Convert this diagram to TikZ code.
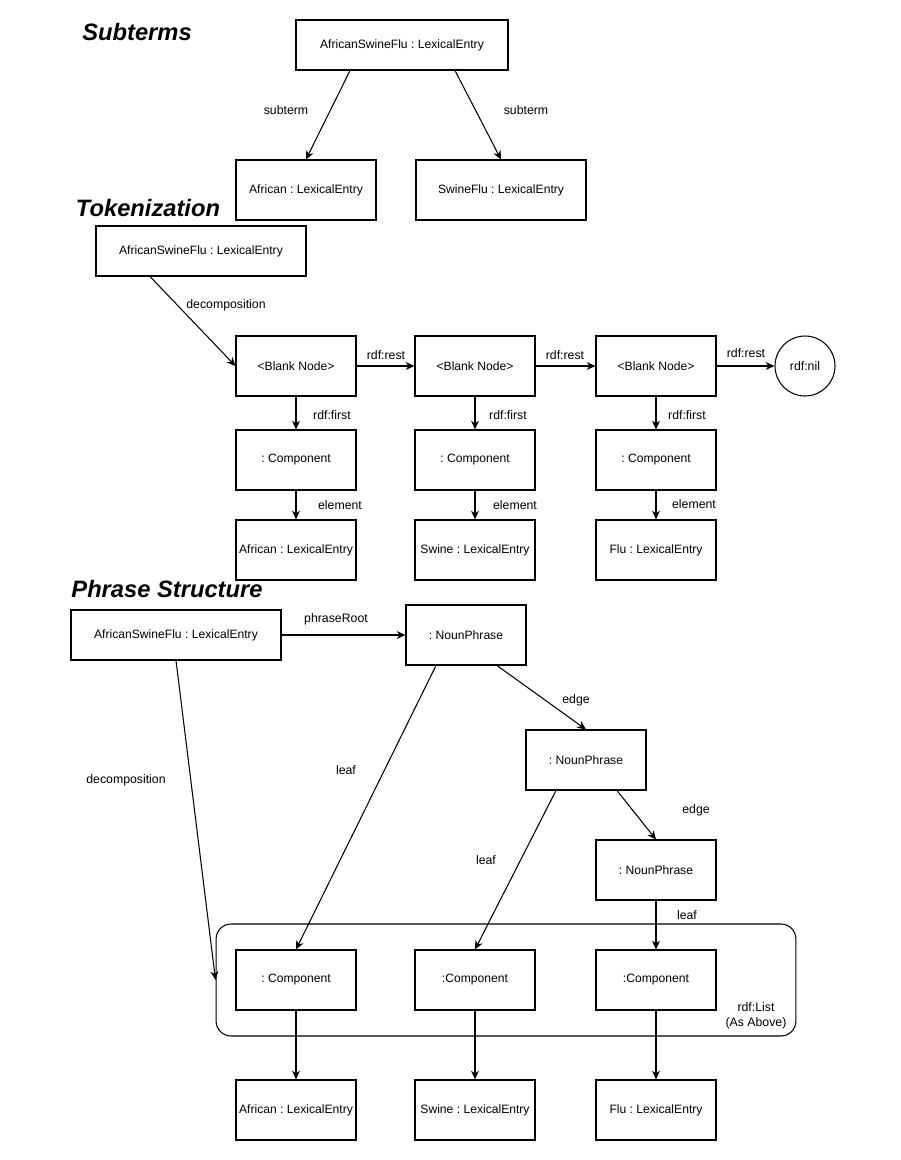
\documentclass[tikz,border=0pt]{standalone}
\usepackage{fontspec}
\setmainfont{Liberation Sans}
\usetikzlibrary{arrows.meta,calc}
\frenchspacing

\begin{document}
\begin{tikzpicture}[x=0.02cm,y=-0.02cm,line width=0.6pt,
    >={Stealth[length=5pt,width=4.5pt]},
    box/.style={draw,inner sep=0pt,minimum width=2.4cm,minimum height=1.2cm,font=\fontsize{6.9}{8}\selectfont},
    lbl/.style={inner sep=1pt,font=\fontsize{7}{8.5}\selectfont},
    title/.style={inner sep=0pt,font=\fontsize{13.5}{15}\selectfont\bfseries\itshape}]
    \useasboundingbox[fill=white] (0,0) rectangle (900,1160);

    % Subterms
    \node[title] (tsub) at (137,32) {Subterms};
    \node[box,minimum width=4.24cm,minimum height=1cm] (asfa) at (402,45) {AfricanSwineFlu : LexicalEntry};
    \node[box,minimum width=2.8cm] (afra) at (306,190) {African : LexicalEntry};
    \node[box,minimum width=3.4cm] (swfa) at (501,190) {SwineFlu : LexicalEntry};
    \draw[->] ($(asfa.south)+(-52,0)$) -- (afra.north);
    \draw[->] ($(asfa.south)+(53,0)$) -- (swfa.north);
    \node[lbl] (lsuba) at (286,110) {subterm};
    \node[lbl] (lsubb) at (526,110) {subterm};

    % Tokenization
    \node[title] (ttok) at (148,208) {Tokenization};
    \node[box,minimum width=4.2cm,minimum height=1cm] (asfb) at (201,251) {AfricanSwineFlu : LexicalEntry};
    \node[box] (bna) at (296,366) {<Blank Node>};
    \node[box] (bnb) at (475,366) {<Blank Node>};
    \node[box] (bnc) at (656,366) {<Blank Node>};
    \node[draw,circle,minimum size=1.2cm,inner sep=0pt,font=\fontsize{7}{8}\selectfont] (nil) at (805,366) {rdf:nil};
    \draw[->] ($(asfb.south)+(-51,0)$) -- (bna.west);
    \node[lbl] (ldeca) at (226,305) {decomposition};
    \draw[->] (bna) -- (bnb);
    \draw[->] (bnb) -- (bnc);
    \draw[->] (bnc) -- (nil);
    \node[lbl] (lresa) at (386,355) {rdf:rest};
    \node[lbl] (lresb) at (565,355) {rdf:rest};
    \node[lbl] (lresc) at (746,353) {rdf:rest};
    \node[box] (cpa) at (296,460) {: Component};
    \node[box] (cpb) at (475,460) {: Component};
    \node[box] (cpc) at (656,460) {: Component};
    \node[box] (afrb) at (296,550) {African : LexicalEntry};
    \node[box] (swb) at (475,550) {Swine : LexicalEntry};
    \node[box] (flb) at (656,550) {Flu : LexicalEntry};
    \draw[->] (bna) -- (cpa);
    \draw[->] (bnb) -- (cpb);
    \draw[->] (bnc) -- (cpc);
    \draw[->] (cpa) -- (afrb);
    \draw[->] (cpb) -- (swb);
    \draw[->] (cpc) -- (flb);
    \node[lbl] (lfsta) at (332,415) {rdf:first};
    \node[lbl] (lfstb) at (508,415) {rdf:first};
    \node[lbl] (lfstc) at (687,415) {rdf:first};
    \node[lbl] (lela) at (340,505) {element};
    \node[lbl] (lelb) at (515,505) {element};
    \node[lbl] (lelc) at (694,504) {element};

    % Phrase structure
    \node[title] (tphr) at (167,589) {Phrase Structure};
    \node[box,minimum width=4.2cm,minimum height=1cm] (asfc) at (176,635) {AfricanSwineFlu : LexicalEntry};
    \node[box] (npa) at (466,635) {: NounPhrase};
    \node[box] (npb) at (586,760) {: NounPhrase};
    \node[box] (npc) at (656,870) {: NounPhrase};
    \node[draw,rounded corners=0.3cm,minimum width=11.6cm,minimum height=2.24cm,inner sep=0pt] (lst) at (506,980) {};
    \node[lbl,align=center] (llst) at (756,1016) {rdf:List\\(As Above)};
    \node[box] (pca) at (296,980) {: Component};
    \node[box] (pcb) at (475,980) {:Component};
    \node[box] (pcc) at (656,980) {:Component};
    \node[box] (afrc) at (296,1110) {African : LexicalEntry};
    \node[box] (swc) at (475,1110) {Swine : LexicalEntry};
    \node[box] (flc) at (656,1110) {Flu : LexicalEntry};
    \draw[->] (asfc) -- (npa);
    \node[lbl] (lroot) at (336,619) {phraseRoot};
    \draw[->] ($(npa.south)+(31,0)$) -- (npb.north);
    \draw[->] ($(npb.south)+(31,0)$) -- (npc.north);
    \node[lbl] (ledga) at (576,700) {edge};
    \node[lbl] (ledgb) at (696,810) {edge};
    \draw[->] ($(npa.south)+(-30,0)$) -- (pca.north);
    \draw[->] ($(npb.south)+(-30,0)$) -- (pcb.north);
    \draw[->] (npc) -- (pcc);
    \node[lbl] (llfa) at (346,770) {leaf};
    \node[lbl] (llfb) at (486,860) {leaf};
    \node[lbl] (llfc) at (687,915) {leaf};
    \draw[->] (asfc.south) -- (lst.west);
    \node[lbl] (ldecb) at (126,780) {decomposition};
    \draw[->] (pca) -- (afrc);
    \draw[->] (pcb) -- (swc);
    \draw[->] (pcc) -- (flc);
\end{tikzpicture}
\end{document}
